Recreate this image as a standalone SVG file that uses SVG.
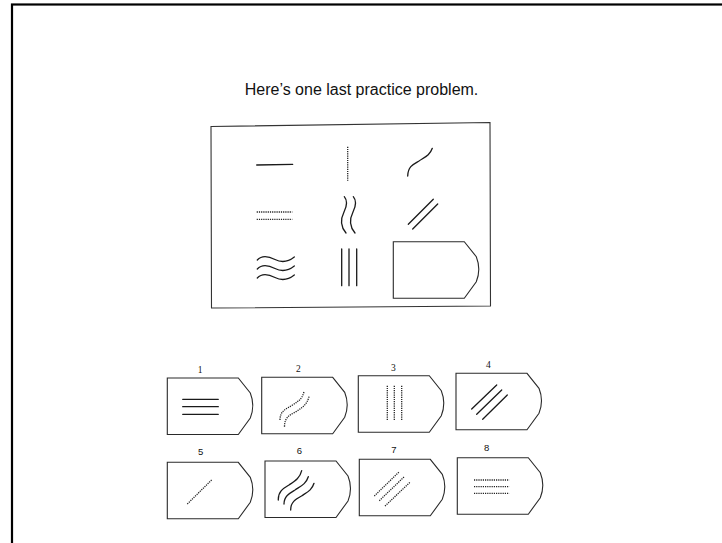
<svg xmlns="http://www.w3.org/2000/svg" width="722" height="543" viewBox="0 0 722 543">
<style>
  .ln{fill:none;stroke:#1a1a1a;stroke-width:1.3;stroke-linecap:round}
  .dot{fill:none;stroke:#222;stroke-width:1.3;stroke-dasharray:1.2 1}
  .box{fill:#fff;stroke:#2a2a2a;stroke-width:1.1}
  .lbs{font-family:"Liberation Serif",serif;font-size:9.5px;fill:#111;text-anchor:middle}
  .lbn{font-family:"Liberation Sans",sans-serif;font-size:9.5px;fill:#111;text-anchor:middle}
</style>
<defs>
  <path id="tag" d="M0,0 H71 L83,15 Q88,27.5 83,40 L71,56.5 H0 Z"/>
</defs>
<rect x="0" y="0" width="722" height="543" fill="#fff"/>
<rect id="frame" x="12" y="4.5" width="730" height="560" fill="none" stroke="#000" stroke-width="2.2"/>
<g id="title"><text x="361.5" y="95" font-family="Liberation Sans, Arial, sans-serif" font-size="16" text-anchor="middle" fill="#111">Here’s one last practice problem.</text></g>

<g id="matrix">
  <path d="M211,126.5 L490,122.5 L490.5,306 L211.5,308 Z" fill="none" stroke="#333" stroke-width="1.1"/>
  <g id="cell1"><path class="ln" d="M256.7,165 L292.7,164.3"/></g>
  <g id="cell2"><path class="dot" d="M347.7,146.7 L347.7,180.7"/></g>
  <g id="cell3"><path class="ln" d="M407.7,176 C408,166 414,164 419,161 C425,157 430,155 432.3,148.3"/></g>
  <g id="cell4"><path class="dot" d="M256.7,212 H292.3 M256.7,219.3 H292.3"/></g>
  <g id="cell5"><path class="ln" d="M344.3,196.7 C348,201 347,206 344,212 C341,218 340,226 346,233 M353.3,196.7 C357,201 356,206 353,212 C350,218 349,226 355,233"/></g>
  <g id="cell6"><path class="ln" d="M408.3,224.3 L433.3,199.3 M412.7,229 L437.7,204"/></g>
  <g id="cell7"><path class="ln" d="M257.3,260 C262,255 268,256 275,259.5 C282,263 288,262 294.3,257 M257.3,269 C262,264 268,265 275,268.5 C282,272 288,271 294.3,266 M257.3,278 C262,273 268,274 275,277.5 C282,281 288,280 294.3,275"/></g>
  <g id="cell8"><path class="ln" d="M341.7,249 V285.7 M349,249 V285.7 M356.7,249 V285.7"/></g>
  <g id="cell9"><use href="#tag" class="box" transform="translate(393.3,241.7)"/></g>
</g>

<g id="opt1">
  <text class="lbs" x="200" y="372.5">1</text>
  <use href="#tag" class="box" transform="translate(167.3,378)"/>
  <path class="ln" d="M182.7,399.3 H218.3 M182.7,406.7 H218.3 M182.7,414.3 H218.3"/>
</g>
<g id="opt2">
  <text class="lbs" x="298.3" y="372">2</text>
  <use href="#tag" class="box" transform="translate(261.7,377.3)"/>
  <path class="dot" d="M280,420 C280,411 286,409 291,406 C297,402 302,400 304,391.7 M284.5,426.7 C284.5,417 290,415 295.5,412 C301.5,408 307,405 309,396.7"/>
</g>
<g id="opt3">
  <text class="lbs" x="393.3" y="371">3</text>
  <use href="#tag" class="box" transform="translate(358.3,375.7)"/>
  <path class="dot" d="M387.3,385.7 V420 M394.3,385.7 V420 M401.7,385.7 V420"/>
</g>
<g id="opt4">
  <text class="lbs" x="488.3" y="368">4</text>
  <use href="#tag" class="box" transform="translate(456,373.3)"/>
  <path class="ln" d="M471.7,409 L496.7,385 M476.7,414.3 L501.7,390 M482.7,419.3 L507.3,395"/>
</g>
<g id="opt5">
  <text class="lbn" x="200.7" y="454.5">5</text>
  <use href="#tag" class="box" transform="translate(167.3,462.3)"/>
  <path class="dot" d="M187.3,504 L212.3,479.3"/>
</g>
<g id="opt6">
  <text class="lbn" x="299.3" y="453.5">6</text>
  <use href="#tag" class="box" transform="translate(265,461)"/>
  <path class="ln" d="M278.3,500 C278,491 284,488 289,485 C295,481 300,478 301.7,470.7 M284,504 C284,496 290,493 295,490 C301,486 306,484 308.3,476.7 M290.7,510 C290.5,502 296,499 301.5,496 C307.5,492 312,490 314,483.3"/>
</g>
<g id="opt7">
  <text class="lbn" x="394" y="452.5">7</text>
  <use href="#tag" class="box" transform="translate(359.3,459.3)"/>
  <path class="dot" d="M374.3,496 L399.3,471.7 M379.3,500.7 L404.3,476.7 M385,506 L410,482.3"/>
</g>
<g id="opt8">
  <text class="lbn" x="486.7" y="450.5">8</text>
  <use href="#tag" class="box" transform="translate(457.3,457.7)"/>
  <path class="dot" d="M474,480 H509.3 M474,486.7 H509.3 M474,493.3 H509.3"/>
</g>
<g id="connectors"/>
</svg>
